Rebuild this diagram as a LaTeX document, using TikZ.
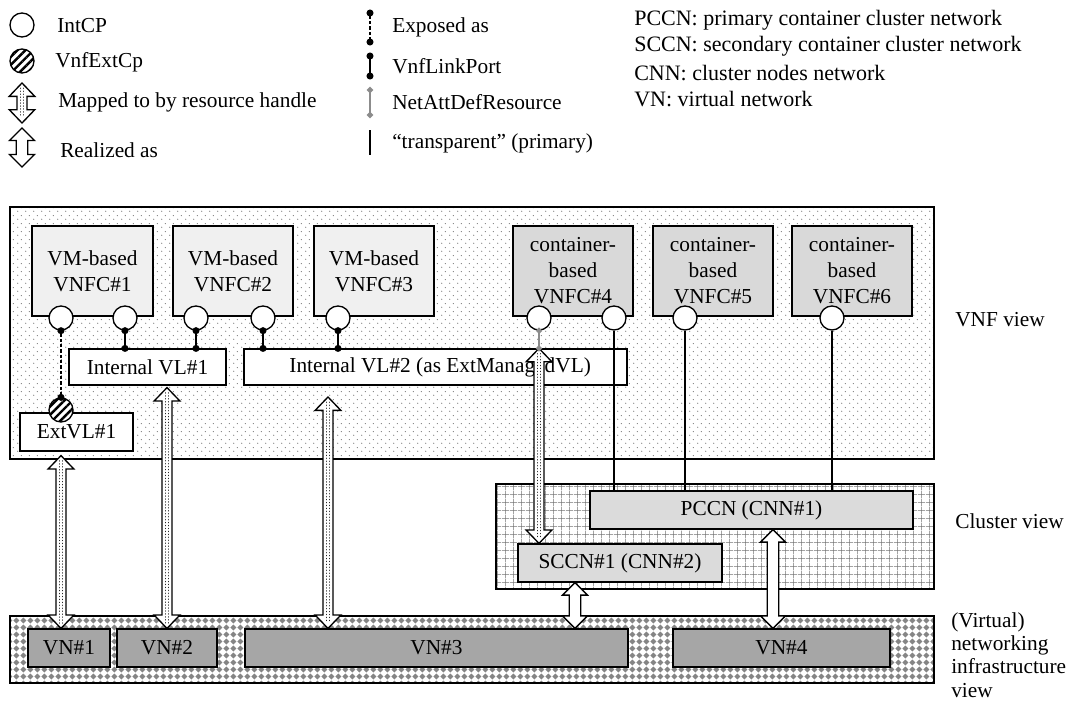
\documentclass[tikz,border=0pt]{standalone}
\usepackage{fontspec}
\setmainfont{Liberation Serif}
\usetikzlibrary{patterns.meta,arrows.meta,calc}

% fill patterns of the three views
\tikzdeclarepattern{
  name=sparsedots, type=uncolored,
  bottom left={(0pt,0pt)}, top right={(6pt,6pt)},
  tile size={(6pt,6pt)},
  code={\fill (1.5pt,1.5pt) circle (0.5pt); \fill (4.5pt,4.5pt) circle (0.5pt);}
}
\tikzdeclarepattern{
  name=cellgrid, type=uncolored,
  bottom left={(0pt,0pt)}, top right={(5.7pt,5.7pt)},
  tile size={(5.7pt,5.7pt)},
  code={\draw[line width=0.5pt] (0pt,2.85pt) -- (5.7pt,2.85pt) (2.85pt,0pt) -- (2.85pt,5.7pt);}
}
\tikzdeclarepattern{
  name=diamondgrid, type=uncolored,
  bottom left={(0pt,0pt)}, top right={(5.2pt,5.2pt)},
  tile size={(5.2pt,5.2pt)},
  code={\fill (2.6pt,0.35pt) -- (4.85pt,2.6pt) -- (2.6pt,4.85pt) -- (0.35pt,2.6pt) -- cycle;}
}

% vertical block arrow with two heads: style, head half width, shaft half width, head length, top, bottom
\newcommand\blockarrow[6]{%
  \path[#1] let \p1=(#5), \p2=(#6) in
    (\x1,\y1) -- (\x1+#2,\y1-#4) -- (\x1+#3,\y1-#4) -- (\x1+#3,\y2+#4)
    -- (\x1+#2,\y2+#4) -- (\x1,\y2) -- (\x1-#2,\y2+#4) -- (\x1-#3,\y2+#4)
    -- (\x1-#3,\y1-#4) -- (\x1-#2,\y1-#4) -- cycle;}
\newcommand\mappedarrow[2]{%
  \blockarrow{blockarr}{9.6pt}{3.7pt}{10pt}{#1}{#2}%
  \path[mapdots] let \p1=(#1), \p2=(#2) in
    (\x1-1.3pt,\y1-4pt) -- (\x1-1.3pt,\y2+4pt)
    (\x1+1.3pt,\y1-4pt) -- (\x1+1.3pt,\y2+4pt);}
\newcommand\realarrow[2]{\blockarrow{blockarr}{9.4pt}{4.3pt}{9.4pt}{#1}{#2}}

\begin{document}
\begin{tikzpicture}[x=0.75pt,y=-0.75pt,
  every node/.style={font=\fontsize{16pt}{19.5pt}\selectfont},
  size/.style 2 args={minimum width=#1*0.75pt, minimum height=#2*0.75pt},
  area/.style={draw, line width=1.1pt, inner sep=0pt},
  vnfarea/.style={area, pattern=sparsedots, pattern color=black!50},
  clusterarea/.style={area, pattern=cellgrid, pattern color=black!55},
  infraarea/.style={area, pattern=diamondgrid, pattern color=black!48},
  box/.style={draw, line width=0.9pt, inner sep=0pt, align=center},
  vmbox/.style={box, fill=black!6},
  ctbox/.style={box, fill=black!15},
  vlbox/.style={box, fill=white},
  cnbox/.style={box, fill=black!14},
  vnbox/.style={box, fill=black!35},
  icp/.style={circle, draw, line width=1pt, fill=white, minimum size=18pt, inner sep=0pt},
  ecp/.style={circle, draw, line width=1pt, minimum size=18pt, inner sep=0pt,
    preaction={fill=white}, pattern={Lines[angle=45,distance=4.3pt,line width=1.8pt]}},
  exposed/.style={line width=1pt, dash pattern=on 2.5pt off 1.5pt,
    {Circle[length=5.2pt]}-{Circle[length=5.2pt]}, shorten <=-2.6pt, shorten >=-2.6pt},
  linkport/.style={line width=1.2pt,
    {Circle[length=5.2pt]}-{Circle[length=5.2pt]}, shorten <=-2.6pt, shorten >=-2.6pt},
  netatt/.style={line width=1.3pt, draw=black!45,
    {Diamond[length=5pt,width=5pt]}-{Diamond[length=5pt,width=5pt]}, shorten <=-2.5pt, shorten >=-2.5pt},
  transp/.style={line width=1pt},
  blockarr/.style={draw, line width=1pt, fill=white, line join=miter},
  mapdots/.style={draw=black!85, line width=1.1pt, dash pattern=on 0.01pt off 2.2pt, line cap=round},
  legtext/.style={anchor=west, inner sep=0pt},
  abbrtext/.style={legtext, font=\fontsize{16.5pt}{19.5pt}\selectfont},
  viewtext/.style={anchor=west, inner sep=0pt, align=left}
]
\fill[white] (0,0) rectangle (1077,700);
\useasboundingbox (0,0) rectangle (1077,700);

% ---------- legend ----------
\node[icp] (lgicp) at (22,25) {};
\node[legtext] at (57,26) {IntCP};
\node[ecp] (lgecp) at (22,61) {};
\node[legtext] at (55,62) {VnfExtCp};
\coordinate (lgmt) at (22,83);  \coordinate (lgmb) at (22,123);
\mappedarrow{lgmt}{lgmb}
\node[legtext] at (58,102) {Mapped to by resource handle};
\coordinate (lgrt) at (22,128); \coordinate (lgrb) at (22,167);
\realarrow{lgrt}{lgrb}
\node[legtext] at (60,150) {Realized as};

\coordinate (lge1) at (370,13);  \coordinate (lge2) at (370,42);
\draw[exposed] (lge1) -- (lge2);
\node[legtext] at (392,27) {Exposed as};
\coordinate (lgl1) at (370,56);  \coordinate (lgl2) at (370,76);
\draw[linkport] (lgl1) -- (lgl2);
\node[legtext] at (392,66) {VnfLinkPort};
\coordinate (lgn1) at (370,90);  \coordinate (lgn2) at (370,115);
\draw[netatt] (lgn1) -- (lgn2);
\node[legtext] at (392,102) {NetAttDefResource};
\coordinate (lgt1) at (370,130); \coordinate (lgt2) at (370,155);
\draw[transp, line width=1.4pt] (lgt1) -- (lgt2);
\node[legtext] at (392,143) {“transparent” (primary)};

\node[abbrtext] at (634,20) {PCCN: primary container cluster network};
\node[abbrtext] at (634,46) {SCCN: secondary container cluster network};
\node[abbrtext] at (634,73) {CNN: cluster nodes network};
\node[abbrtext] at (634,99) {VN: virtual network};

% ---------- view areas ----------
\node[vnfarea, size={924}{252}] (vnf) at (472,333) {};
\node[clusterarea, size={438}{105}] (cluster) at (715,536.5) {};
\node[infraarea, size={924}{67}] (infra) at (472,649.5) {};

% ---------- VNF view ----------
\node[vmbox, size={121}{90}] (vnfc1) at (92.5,271) {VM-based\\VNFC\#1};
\node[vmbox, size={120}{90}] (vnfc2) at (233,271) {VM-based\\VNFC\#2};
\node[vmbox, size={120}{90}] (vnfc3) at (374,271) {VM-based\\VNFC\#3};
\node[ctbox, size={120}{90}] (vnfc4) at (573,271) {container-\\based\\VNFC\#4};
\node[ctbox, size={120}{90}] (vnfc5) at (713,271) {container-\\based\\VNFC\#5};
\node[ctbox, size={120}{90}] (vnfc6) at (852,271) {container-\\based\\VNFC\#6};

\node[vlbox, size={157}{36}] (vl1) at (147.5,367) {Internal VL\#1};
\node[vlbox, size={383}{36}] (vl2) at (435.5,367) {\hspace*{7pt}Internal VL\#2 (as ExtManagedVL)};
\node[vlbox, size={113}{38}] (extvl) at (76.5,432) {ExtVL\#1};

% ---------- cluster view ----------
\node[cnbox, size={323}{38}] (pccn) at (751.5,510) {PCCN (CNN\#1)};
\node[cnbox, size={204}{38}] (sccn) at (620,563) {SCCN\#1 (CNN\#2)};

% ---------- infrastructure view ----------
\node[vnbox, size={82}{38}] (vn1) at (69,648) {VN\#1};
\node[vnbox, size={100}{38}] (vn2) at (167,648) {VN\#2};
\node[vnbox, size={383}{38}] (vn3) at (436.5,648) {VN\#3};
\node[vnbox, size={217}{38}] (vn4) at (781.5,648) {VN\#4};

% ---------- connection points ----------
\node[icp] (c1a) at (61,318) {};
\node[icp] (c1b) at (125,318) {};
\node[icp] (c2a) at (196,318) {};
\node[icp] (c2b) at (263,318) {};
\node[icp] (c3)  at (338,318) {};
\node[icp] (c4a) at (539,318) {};
\node[icp] (c4b) at (614,318) {};
\node[icp] (c5)  at (685,318) {};
\node[icp] (c6)  at (832,318) {};
\node[ecp] (ecp) at (61,410) {};

% primary (transparent) attachments to the PCCN
\draw[transp] (c4b.south) -- (c4b.south |- pccn.north);
\draw[transp] (c5.south) -- (c5.south |- pccn.north);
\draw[transp] (c6.south) -- (c6.south |- pccn.north);

% mapping and realization arrows
\coordinate (a1top) at ($(ecp.center |- extvl.south)+(0,4)$);
\mappedarrow{a1top}{ecp.center |- vn1.north}
\coordinate (a2top) at ($(vn2.north |- vl1.south)+(0,2)$);
\mappedarrow{a2top}{vn2.north}
\coordinate (a3top) at (328,397);
\mappedarrow{a3top}{a3top |- vn3.north}
\mappedarrow{c4a.center |- vl2.north}{c4a.center |- sccn.north}
\coordinate (r1x) at (575,0);
\realarrow{r1x |- sccn.south}{r1x |- vn3.north}
\coordinate (r2x) at (773,0);
\realarrow{r2x |- pccn.south}{r2x |- vn4.north}

% link ports and exposure
\draw[exposed] (c1a.south) -- (ecp.north);
\draw[linkport] (c1b.south) -- (c1b.south |- vl1.north);
\draw[linkport] (c2a.south) -- (c2a.south |- vl1.north);
\draw[linkport] (c2b.south) -- (c2b.south |- vl2.north);
\draw[linkport] (c3.south) -- (c3.south |- vl2.north);
\draw[netatt] (c4a.south) -- (c4a.south |- vl2.north);

% ---------- view labels ----------
\node[viewtext] at (955,320) {VNF view};
\node[viewtext] at (955,521) {Cluster view};
\node[viewtext, anchor=base west, font=\fontsize{16pt}{17.5pt}\selectfont] at (951,697)
  {(Virtual)\\networking\\infrastructure\\view};
\end{tikzpicture}
\end{document}
